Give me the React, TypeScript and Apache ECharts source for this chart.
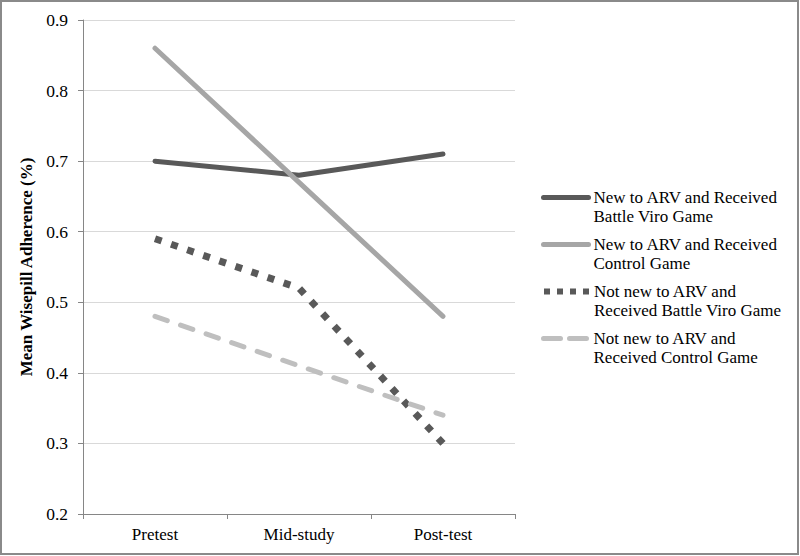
import React, { useEffect, useRef } from "react";
import * as echarts from "echarts";

const categories = ["Pretest", "Mid-study", "Post-test"];
const seriesNames = [
  "New to ARV and Received\nBattle Viro Game",
  "New to ARV and Received\nControl Game",
  "Not new to ARV and\nReceived Battle Viro Game",
  "Not new to ARV and\nReceived Control Game",
];
const newBattle = [0.7, 0.68, 0.71];
const newControl = [0.86, 0.67, 0.48];
const notNewBattle = [0.59, 0.52, 0.3];
const notNewControl = [0.48, 0.41, 0.34];
const yTicks = { min: 0.2, max: 0.9, interval: 0.1 };
const yAxisTitle = "Mean Wisepill Adherence (%)";

const FONT = "Liberation Serif, Times New Roman, serif";

export default function App() {
  const ref = useRef<HTMLDivElement>(null);
  useEffect(() => {
    if (!ref.current) return;
    const chart = echarts.init(ref.current, undefined, { renderer: "svg" });
    const styles = [
      { color: "#595959", width: 5, type: "solid" as any, legendType: "solid" as any, cap: "round" },
      { color: "#a6a6a6", width: 5, type: "solid" as any, legendType: "solid" as any, cap: "round" },
      { color: "#595959", width: 7, type: [7, 10] as any, legendType: [6, 7] as any, cap: "butt" },
      { color: "#bfbfbf", width: 5, type: [13, 14] as any, legendType: [17, 9] as any, cap: "round" },
    ];
    const legendWidths = [5, 5, 6, 5];
    const datas = [newBattle, newControl, notNewBattle, notNewControl];
    const legendTops = [169, 216, 263, 310];
    chart.setOption({
      animation: false,
      backgroundColor: "#ffffff",
      textStyle: { fontFamily: FONT },
      grid: { left: 83, right: 285, top: 20, bottom: 42, containLabel: false },
      xAxis: {
        type: "category",
        data: categories,
        boundaryGap: true,
        axisLine: { lineStyle: { color: "#868686", width: 1 } },
        axisTick: { show: true, length: 5, alignWithLabel: false, lineStyle: { color: "#868686" } },
        axisLabel: { color: "#000", fontFamily: FONT, fontSize: 17, margin: 12 },
        splitLine: { show: false },
      },
      yAxis: {
        type: "value",
        min: yTicks.min,
        max: yTicks.max,
        interval: yTicks.interval,
        name: yAxisTitle,
        nameLocation: "middle",
        nameGap: 38,
        nameTextStyle: { color: "#000", fontFamily: FONT, fontSize: 17, fontWeight: "bold" },
        axisLine: { show: true, lineStyle: { color: "#868686", width: 1 } },
        axisTick: { show: true, length: 5, lineStyle: { color: "#868686" } },
        axisLabel: {
          color: "#000",
          fontFamily: FONT,
          fontSize: 17.5,
          margin: 15,
          formatter: (v: number) => v.toFixed(1),
        },
        splitLine: { show: true, lineStyle: { color: "#d9d9d9", width: 1 } },
      },
      legend: seriesNames.map((n, i) => ({
        data: [n],
        orient: "vertical",
        left: 541,
        top: legendTops[i],
        padding: 0,
        itemWidth: 45,
        itemHeight: 14,
        selectedMode: false,
        formatter: (name: string) => " \n" + name,
        itemStyle: { color: "rgba(0,0,0,0)", borderWidth: 0, opacity: 0 },
        lineStyle: {
          width: legendWidths[i],
          cap: styles[i].cap,
          color: styles[i].color,
          type: styles[i].legendType,
        },
        textStyle: {
          color: "#000",
          fontFamily: FONT,
          fontSize: 17,
          lineHeight: 19,
        },
      })),
      series: seriesNames.map((n, i) => ({
        name: n,
        type: "line",
        data: datas[i],
        symbol: "none",
        color: styles[i].color,
        lineStyle: {
          color: styles[i].color,
          width: styles[i].width,
          type: styles[i].type,
          cap: styles[i].cap,
          join: "round",
        },
      })),
      graphic: [
        {
          type: "rect",
          shape: { x: 1, y: 1, width: 797, height: 553 },
          style: { fill: "none", stroke: "#8a8a8a", lineWidth: 2 },
          silent: true,
        },
      ],
    });
    return () => chart.dispose();
  }, []);
  return (
    <div
      ref={ref}
      style={{ position: "fixed", left: 0, top: 0, width: 800, height: 556, background: "#fff" }}
    />
  );
}
